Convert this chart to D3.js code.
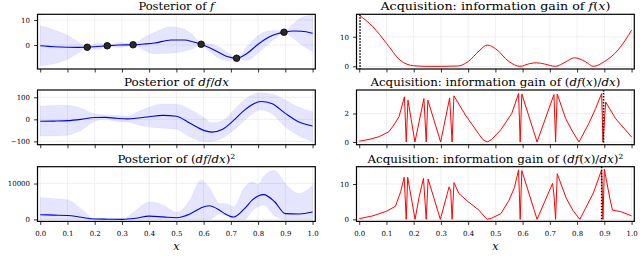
<!DOCTYPE html>
<html lang="en">
<head>
<meta charset="utf-8" />
<title>GP posterior and acquisition</title>
<script src="https://d3js.org/d3.v7.min.js"></script>
<style>
  body { margin: 0; background: white; }
  svg text { font-family: "DejaVu Serif", serif; fill: #000; }
  .tick text { font-size: 7px; font-family: "DejaVu Serif", serif; }
  .title { font-size: 10.5px; }
  .grid line { stroke: #ebebeb; stroke-width: 0.8; }
</style>
</head>
<body>
<svg width="640" height="256"></svg>
<script>
// --- data ---
const xTicks = [0, 0.1, 0.2, 0.3, 0.4, 0.5, 0.6, 0.7, 0.8, 0.9, 1.0];

// observations
const obsX = [0.1726, 0.246, 0.341, 0.591, 0.721, 0.895];
const obsY = [-0.9, -0.3, 0.1, 0.3, -5.3, 5.1];

// posterior of f
const fX     = [0, 0.05, 0.1, 0.14, 0.1726, 0.21, 0.246, 0.29, 0.341, 0.38, 0.42, 0.48, 0.53, 0.56, 0.591, 0.62, 0.66, 0.69, 0.721, 0.76, 0.8, 0.84, 0.87, 0.895, 0.93, 0.96, 1.0];
const fMean  = [-0.3, -0.7, -0.9, -0.95, -0.9, -0.6, -0.3, 0, 0.1, 0.4, 0.8, 2.0, 2.0, 1.3, 0.3, -1.0, -3.2, -4.7, -5.3, -3.3, 0.3, 3.2, 4.5, 5.1, 5.6, 5.5, 4.7];
const fUpper = [7.7, 6.1, 3.9, 1.25, -0.6, 0.6, 0, 1.0, 0.4, 2.9, 5.1, 7.3, 6.2, 4.1, 0.6, 0.5, -0.9, -3.2, -5.0, -0.5, 3.8, 5.7, 5.8, 5.4, 8.6, 11.0, 12.0];
const fLower = [-8.3, -7.5, -5.7, -3.15, -1.2, -1.8, -0.6, -1.0, -0.2, -2.1, -3.5, -3.3, -2.4, -1.5, 0, -2.5, -5.5, -6.2, -5.6, -6.1, -3.2, 0.7, 3.2, 4.8, 2.6, 0, -2.6];

// posterior of df/dx
const dX     = [0, 0.05, 0.1, 0.15, 0.2, 0.24, 0.28, 0.32, 0.36, 0.4, 0.45, 0.5, 0.55, 0.6, 0.63, 0.67, 0.71, 0.75, 0.81, 0.85, 0.9, 0.95, 1.0];
const dMean  = [-9, -8, -6, 0, 8, 9, 5, 2, 6, 12, 18, 14, -18, -50, -58, -45, -5, 42, 81, 72, 27, -12, -30];
const dUpper = [60, 63, 64, 50, 25, 20, 18, 14, 35, 55, 70, 68, 45, 10, -15, -5, 40, 90, 120, 115, 88, 55, 35];
const dLower = [-75, -75, -72, -50, -10, 0, -10, -12, -25, -35, -40, -45, -80, -100, -100, -85, -50, -5, 42, 25, -35, -75, -100];

// posterior of (df/dx)^2
const sX     = [0, 0.05, 0.1, 0.15, 0.2, 0.25, 0.3, 0.35, 0.4, 0.45, 0.5, 0.55, 0.59, 0.62, 0.66, 0.68, 0.71, 0.75, 0.78, 0.8, 0.82, 0.86, 0.9, 0.95, 1.0];
const sMean  = [1300, 1200, 1100, 600, 100, 50, 0, 300, 900, 700, 470, 1500, 3200, 3800, 2500, 1500, 650, 3000, 5500, 6500, 6900, 5000, 1600, 1500, 2050];
const sUpper = [6100, 5800, 5500, 3000, 300, 300, 100, 2500, 4900, 4000, 2000, 5500, 11000, 9000, 4400, 4400, 3500, 9000, 10500, 9800, 12000, 13700, 10000, 7200, 9500];
const sLower = [0, 0, 0, 0, 0, 0, 0, 0, 0, 0, 0, 0, 0, 0, 1500, 1200, 0, 0, 2500, 3500, 4000, 1000, 0, 0, 0];

// acquisition: information gain of f(x)
const afX = [0, 0.05, 0.1, 0.15, 0.2, 0.25, 0.3, 0.36, 0.4, 0.44, 0.47, 0.5, 0.55, 0.59, 0.625, 0.65, 0.68, 0.72, 0.76, 0.79, 0.83, 0.86, 0.9, 0.95, 1.0];
const afY = [17.3, 13.4, 7.8, 2.1, 0.2, 0, 0, 0.1, 1.6, 5.2, 7.2, 6.0, 1.6, 0, 0.9, 1.2, 0.8, 0, 1.6, 2.9, 1.6, 0, 1.6, 5.5, 12.2];

// acquisition: information gain of df(x)/dx
const adX = [0, 0.036, 0.072, 0.109, 0.127, 0.146, 0.166, 0.1726, 0.179, 0.2045, 0.2375, 0.246, 0.252, 0.299, 0.332, 0.341, 0.3476, 0.39, 0.44, 0.455, 0.47, 0.485, 0.52, 0.56, 0.585, 0.591, 0.597, 0.653, 0.715, 0.721, 0.727, 0.758, 0.782, 0.807, 0.843, 0.868, 0.89, 0.895, 0.905, 0.941, 0.978, 1.0];
const adY = [0.05, 0.18, 0.37, 0.72, 1.19, 1.77, 3.17, 0, 2.94, 0, 3.05, 0, 2.94, 0, 3.1, 0, 3.24, 1.89, 0.53, 0.15, 0, 0.15, 0.86, 2.0, 3.4, 0, 3.37, 0, 3.33, 0, 3.37, 1.65, 0.77, 0, 1.3, 2.35, 3.4, 0, 2.8, 1.65, 0.84, 0.35];

// acquisition: information gain of (df(x)/dx)^2
const asX = [0, 0.05, 0.1, 0.133, 0.152, 0.165, 0.1726, 0.178, 0.205, 0.22, 0.236, 0.246, 0.253, 0.298, 0.33, 0.336, 0.341, 0.348, 0.366, 0.4, 0.44, 0.455, 0.47, 0.485, 0.52, 0.55, 0.57, 0.585, 0.591, 0.597, 0.653, 0.71, 0.715, 0.721, 0.727, 0.76, 0.785, 0.81, 0.86, 0.89, 0.895, 0.9, 0.92, 0.93, 0.96, 1.0];
const asY = [0.2, 1.0, 2.3, 3.7, 7.8, 11.9, 0, 11.9, 0, 6.4, 11.6, 0, 11.4, 0, 9.2, 8.0, 0, 10.4, 7.3, 5, 2.6, 1.2, 0, 0.3, 1.6, 5.4, 9, 14, 0, 13.8, 0, 10.2, 6.9, 0, 12.9, 6, 2.5, 0, 7.5, 14, 0, 14.2, 6, 2.6, 2.2, 1.0];

// chosen next query points (dotted lines)
const nextX = [0.003, 0.897, 0.89];

// --- layout ---
const svg = d3.select("svg");
const rowTop = [14.3, 90, 166.7];
const rowH = 54.7;
const colLeft = [37.5, 356.5];
const colW = 277.8;

const fmt = d3.format("d");

function panel(col, row, opts) {
  const x0 = colLeft[col], y0 = rowTop[row];
  const x = d3.scaleLinear().domain([-0.01, 1.01]).range([x0, x0 + colW]);
  const y = d3.scaleLinear().domain(opts.yDomain).range([y0 + rowH, y0]);
  const g = svg.append("g");
  const clipId = `clip-${col}-${row}`;
  g.append("clipPath").attr("id", clipId)
    .append("rect").attr("x", x0).attr("y", y0).attr("width", colW).attr("height", rowH);

  // grid
  const grid = g.append("g").attr("class", "grid");
  grid.selectAll("line.gx").data(xTicks).join("line").attr("class", "gx")
    .attr("x1", d => x(d)).attr("x2", d => x(d)).attr("y1", y0).attr("y2", y0 + rowH);
  grid.selectAll("line.gy").data(opts.yTicks).join("line").attr("class", "gy")
    .attr("x1", x0).attr("x2", x0 + colW).attr("y1", d => y(d)).attr("y2", d => y(d));

  const plot = g.append("g").attr("clip-path", `url(#${clipId})`);

  if (opts.band) {
    const pts = opts.band.x.map((v, i) => [v, opts.band.lo[i], opts.band.hi[i]]);
    plot.append("path").datum(pts)
      .attr("fill", "#0000ff").attr("fill-opacity", 0.1)
      .attr("stroke", "#0000ff").attr("stroke-opacity", 0.04).attr("stroke-width", 1)
      .attr("d", d3.area().curve(d3.curveMonotoneX)
        .x(d => x(d[0])).y0(d => y(d[1])).y1(d => y(d[2])));
  }

  const linePts = opts.line.x.map((v, i) => [v, opts.line.y[i]]);
  plot.append("path").datum(linePts)
    .attr("fill", "none").attr("stroke", opts.color).attr("stroke-width", opts.lw || 1.1)
    .attr("stroke-linejoin", "round")
    .attr("d", d3.line().curve(opts.curve || d3.curveMonotoneX).x(d => x(d[0])).y(d => y(d[1])));

  if (opts.points) {
    plot.selectAll("circle").data(opts.points.x.map((v, i) => [v, opts.points.y[i]]))
      .join("circle")
      .attr("cx", d => x(d[0])).attr("cy", d => y(d[1])).attr("r", 3.3)
      .attr("fill", "#2a2a2a").attr("stroke", "#000").attr("stroke-width", 0.8);
  }

  if (opts.vline !== undefined) {
    plot.append("line")
      .attr("x1", x(opts.vline)).attr("x2", x(opts.vline))
      .attr("y1", y0).attr("y2", y0 + rowH)
      .attr("stroke", "#000").attr("stroke-width", 1.5).attr("stroke-dasharray", "1.5,1.5");
  }

  // frame
  g.append("rect").attr("x", x0).attr("y", y0).attr("width", colW).attr("height", rowH)
    .attr("fill", "none").attr("stroke", "#000").attr("stroke-width", 1.2);

  // axes
  const xa = g.append("g").attr("transform", `translate(0,${y0 + rowH})`)
    .call(d3.axisBottom(x).tickValues(xTicks).tickSize(3.5).tickPadding(6)
      .tickFormat(row === 2 ? d3.format(".1f") : ""));
  const ya = g.append("g").attr("transform", `translate(${x0},0)`)
    .call(d3.axisLeft(y).tickValues(opts.yTicks).tickSize(3.5).tickPadding(4).tickFormat(fmt));
  [xa, ya].forEach(a => {
    a.select(".domain").remove();
    a.selectAll(".tick line").attr("stroke", "#000").attr("stroke-width", 0.8);
  });

  // title
  const t = svg.append("text").attr("class", "title")
    .attr("x", x0 + colW / 2).attr("y", opts.titleY).attr("text-anchor", "middle")
    .attr("textLength", opts.titleW).attr("lengthAdjust", "spacingAndGlyphs");
  opts.title.forEach(p => {
    const s = t.append("tspan").text(p[0]);
    if (p[1] === "i") s.attr("font-style", "italic");
    if (p[1] === "sup") s.attr("font-size", "7px").attr("dy", -4);
  });

  if (row === 2) {
    svg.append("text").attr("x", x0 + colW / 2).attr("y", 250)
      .attr("text-anchor", "middle").attr("font-style", "italic").attr("font-size", "11px").text("x");
  }
}

const acq = "Acquisition: information gain of ";

panel(0, 0, {
  yDomain: [-9.6, 12.3], yTicks: [0, 10], color: "#0000ee", titleY: 10, titleW: 76,
  band: { x: fX, lo: fLower, hi: fUpper }, line: { x: fX, y: fMean },
  points: { x: obsX, y: obsY },
  title: [["Posterior of "], ["f", "i"]]
});
panel(1, 0, {
  yDomain: [-0.9, 17.6], yTicks: [0, 10], color: "#ff0000", lw: 1, titleY: 10, titleW: 230,
  line: { x: afX, y: afY }, vline: nextX[0],
  title: [[acq], ["f", "i"], ["("], ["x", "i"], [")"]]
});
panel(0, 1, {
  yDomain: [-115, 133], yTicks: [-100, 0, 100], color: "#0000ee", titleY: 86, titleW: 105,
  band: { x: dX, lo: dLower, hi: dUpper }, line: { x: dX, y: dMean },
  title: [["Posterior of "], ["df", "i"], ["/"], ["dx", "i"]]
});
panel(1, 1, {
  yDomain: [-0.19, 3.65], yTicks: [0, 2], color: "#ff0000", lw: 1, titleY: 86, titleW: 250,
  line: { x: adX, y: adY }, vline: nextX[1], curve: d3.curveLinear,
  title: [[acq + "("], ["df", "i"], ["("], ["x", "i"], [")/"], ["dx", "i"], [")"]]
});
panel(0, 2, {
  yDomain: [-560, 14700], yTicks: [0, 10000], color: "#0000ee", titleY: 162.5, titleW: 118,
  band: { x: sX, lo: sLower, hi: sUpper }, line: { x: sX, y: sMean },
  title: [["Posterior of ("], ["df", "i"], ["/"], ["dx", "i"], [")"], ["2", "sup"]]
});
panel(1, 2, {
  yDomain: [-0.57, 14.9], yTicks: [0, 10], color: "#ff0000", lw: 1, titleY: 162.5, titleW: 256,
  line: { x: asX, y: asY }, vline: nextX[2], curve: d3.curveLinear,
  title: [[acq + "("], ["df", "i"], ["("], ["x", "i"], [")/"], ["dx", "i"], [")"], ["2", "sup"]]
});
</script>
</body>
</html>
